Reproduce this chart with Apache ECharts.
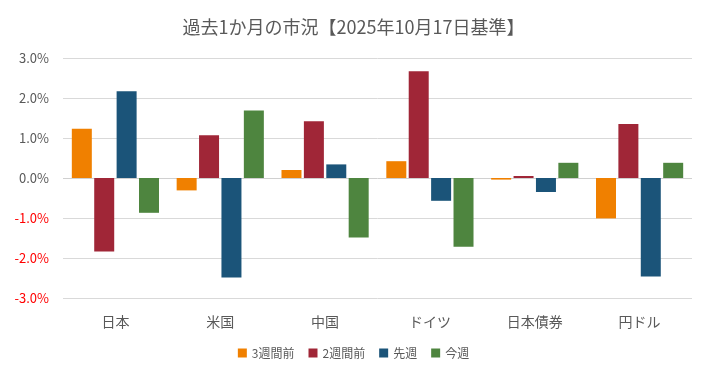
<!DOCTYPE html>
<html><head><meta charset="utf-8">
<script src="https://cdn.jsdelivr.net/npm/echarts@6/dist/echarts.min.js"></script>
<style>html,body{margin:0;padding:0;background:#fff}#c{width:707px;height:376px}</style>
</head><body><div id="c"></div>
<script>
const categories = ['日本', '米国', '中国', 'ドイツ', '日本債券', '円ドル'];
const seriesNames = ['3週間前', '2週間前', '先週', '今週'];
const w3 = [1.23, -0.31, 0.20, 0.42, -0.04, -1.01];
const w2 = [-1.84, 1.07, 1.42, 2.67, 0.05, 1.35];
const w1 = [2.17, -2.49, 0.34, -0.57, -0.35, -2.46];
const w0 = [-0.87, 1.69, -1.49, -1.72, 0.38, 0.38];
const yTicks = [-3, -2, -1, 0, 1, 2, 3];
const colors = ['#F08000', '#A02637', '#1B5479', '#4E853F'];
const font = '"Noto Sans CJK JP", "Noto Sans", sans-serif';
const chart = echarts.init(document.getElementById('c'));
const dataSets = [w3, w2, w1, w0];
chart.setOption({
  animation: false,
  textStyle: {fontFamily: font},
  title: {text: '過去1か月の市況【2025年10月17日基準】', left: 'center', top: 13,
    textStyle: {fontSize: 18, fontWeight: 'normal', color: '#595959', fontFamily: font}},
  legend: {bottom: 12, left: 'center', itemWidth: 9, itemHeight: 9, itemGap: 14,
    icon: 'rect', textStyle: {fontSize: 12, color: '#595959', fontFamily: font},
    data: seriesNames},
  grid: {left: 63, right: 15, top: 58, bottom: 78, containLabel: false},
  xAxis: {type: 'category', data: categories,
    axisLine: {show: false}, axisTick: {show: false},
    axisLabel: {fontSize: 14, color: '#595959', margin: 17, fontFamily: font}},
  yAxis: {type: 'value', min: yTicks[0], max: yTicks[yTicks.length - 1], interval: 1,
    axisLine: {show: false}, axisTick: {show: false},
    axisLabel: {fontSize: 13, margin: 14, fontFamily: font,
      formatter: v => v.toFixed(1) + '%',
      color: v => (v < 0 ? '#FF0000' : '#595959')},
    splitLine: {lineStyle: {width: 1,
      color: yTicks.map(t => t === 0 ? '#d0d0d0' : '#d9d9d9')}}},
  series: seriesNames.map((n, i) => ({
    name: n, type: 'bar', data: dataSets[i], barWidth: 20, barGap: '12%',
    itemStyle: {color: colors[i]}
  }))
});
</script></body></html>
